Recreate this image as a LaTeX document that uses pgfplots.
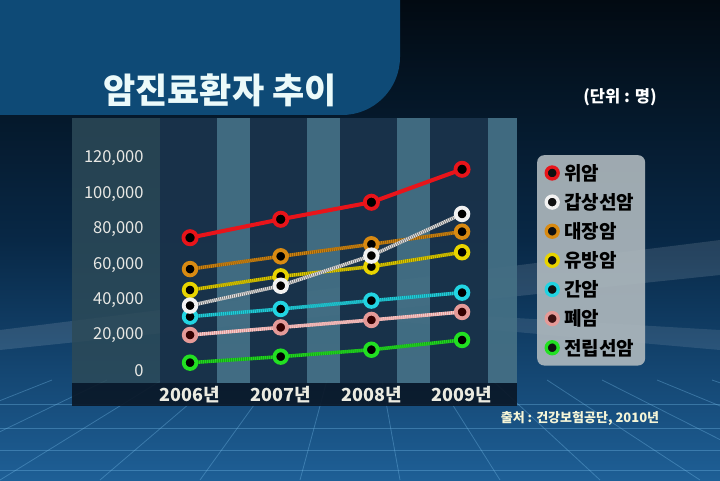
\documentclass[border=0pt]{standalone}
\usepackage{pgfplots}
\pgfplotsset{compat=1.18}
\usepackage{fontspec}
\setmainfont{Noto Sans CJK KR}
\usetikzlibrary{shadings}
\definecolor{cRed}{HTML}{E8141A}
\definecolor{cWhite}{HTML}{F2F2F2}
\definecolor{cOrange}{HTML}{D88A12}
\definecolor{cYellow}{HTML}{E8D400}
\definecolor{cCyan}{HTML}{22D4E2}
\definecolor{cPink}{HTML}{E59A98}
\definecolor{cGreen}{HTML}{22E022}
\definecolor{bandBlue}{HTML}{0E4A76}
\definecolor{panelGray}{HTML}{2C4A58}
\definecolor{stripeDark}{HTML}{173049}
\definecolor{stripeLight}{HTML}{4C7C94}
\definecolor{stripBottom}{HTML}{0A1828}
\definecolor{bgTop}{HTML}{020A12}
\definecolor{bgMid}{HTML}{082846}
\definecolor{bgBot}{HTML}{1E5F96}
\definecolor{gridC}{HTML}{78BEEB}
\definecolor{titleC}{HTML}{EBFAFA}
\definecolor{srcC}{HTML}{F5F5D7}
\definecolor{xlabC}{HTML}{EBEBE1}
\definecolor{ylabC}{HTML}{E8E8E4}
\definecolor{legC}{HTML}{AFB9BE}
\begin{document}
\begin{tikzpicture}
\path[use as bounding box] (0pt,0pt) rectangle (720pt,480pt);
% background
\shade[top color=bgTop, bottom color=bgBot, middle color=bgMid] (0pt,0pt) rectangle (720pt,480pt);
% light streaks
\fill[white, opacity=0.12] (0pt,150pt) -- (720pt,240pt) -- (720pt,205pt) -- (0pt,130pt) -- cycle;
\fill[white, opacity=0.10] (380pt,170pt) -- (720pt,150pt) -- (720pt,130pt) -- (380pt,160pt) -- cycle;
% grid
\begin{scope}[draw=gridC, opacity=0.35, line width=0.8pt]
\foreach \yy in {10,30,52,76} {\draw (0pt,{\yy*1pt}) -- (720pt,{\yy*1pt});}
\foreach \xx in {-300,-200,-100,0,100,200,300,400,500,600,700,800,900,1000} {\draw ({\xx*1pt},0pt) -- ({(360+(\xx-360)*0.55)*1pt},100pt);}
\end{scope}
% title band
\fill[bandBlue] (-60pt,365pt) [rounded corners=58pt] -- (400pt,365pt) -- (400pt,540pt) [sharp corners] -- (-60pt,540pt) -- cycle;
\node[text=titleC, font=\fontsize{35}{35}\selectfont\bfseries, anchor=center] at (220pt,390pt) {암진료환자 추이};
\node[text=white, font=\fontsize{16.5}{16.5}\selectfont\bfseries] at (620pt,383pt) {(단위 : 명)};
% panel
\fill[panelGray, opacity=0.85] (72pt,97pt) rectangle (517pt,362pt);
\foreach \a/\b in {160/217,250/307,340/397,430/488} {\fill[stripeDark, opacity=0.9] ({\a*1pt},97pt) rectangle ({\b*1pt},362pt);}
\foreach \a/\b in {217/250,307/340,397/430,488/517} {\fill[stripeLight, opacity=0.7] ({\a*1pt},97pt) rectangle ({\b*1pt},362pt);}
\fill[stripBottom, opacity=0.92] (72pt,74pt) rectangle (517pt,97pt);
% source
\node[text=srcC, font=\fontsize{13}{13}\selectfont\bfseries] at (580pt,62pt) {출처 : 건강보험공단, 2010년};
\begin{axis}[
  at={(144.7pt,109pt)}, anchor=south west,
  scale only axis, width=362.7pt, height=212.7pt,
  xmin=2005.5, xmax=2009.5, ymin=0, ymax=120000,
  axis lines=left, axis line style={draw=none}, tick style={draw=none},
  clip=false,
  xtick={2006,2007,2008,2009},
  xticklabels={2006년,2007년,2008년,2009년},
  xticklabel style={anchor=center, yshift=-21pt, text=xlabC, font=\fontsize{18}{18}\selectfont\bfseries},
  ytick={0,20000,40000,60000,80000,100000,120000},
  yticklabels={0,{20,000},{40,000},{60,000},{80,000},{100,000},{120,000}},
  scaled y ticks=false,
  yticklabel style={anchor=east, xshift=4.5pt, text=ylabC, font=\fontsize{16.5}{16.5}\selectfont},
  legend style={at={(1.0816,1.0155)}, anchor=north west, fill=legC, fill opacity=0.9, text opacity=1, draw=none, rounded corners=7pt,
    font=\fontsize{19}{19}\selectfont\bfseries, row sep=7.6pt, inner xsep=9pt, inner ysep=7pt,
    /tikz/every odd column/.append style={column sep=4pt}},
  legend cell align=left,
]
% lines
\addplot[forget plot, draw=cGreen, line width=3.5pt, postaction={draw=black, draw opacity=0.25, dash pattern=on 1pt off 1pt, line width=3.5pt}] coordinates {(2006,4700) (2007,8100) (2008,12000) (2009,17500)};
\addplot[forget plot, draw=cPink, line width=3.5pt, postaction={draw=white, draw opacity=0.5, dash pattern=on 1pt off 1pt, line width=3.5pt}] coordinates {(2006,20300) (2007,24600) (2008,28800) (2009,33300)};
\addplot[forget plot, draw=cCyan, line width=3.5pt, postaction={draw=black, draw opacity=0.25, dash pattern=on 1pt off 1pt, line width=3.5pt}] coordinates {(2006,30700) (2007,35000) (2008,39700) (2009,44200)};
\addplot[forget plot, draw=cYellow, line width=3.5pt, postaction={draw=black, draw opacity=0.3, dash pattern=on 1pt off 1pt, line width=3.5pt}] coordinates {(2006,45700) (2007,53400) (2008,58900) (2009,67000)};
\addplot[forget plot, draw=cOrange, line width=3.5pt, postaction={draw=black, draw opacity=0.3, dash pattern=on 1pt off 1pt, line width=3.5pt}] coordinates {(2006,57500) (2007,64700) (2008,71500) (2009,78600)};
\addplot[forget plot, draw=cWhite, line width=3.5pt, postaction={draw=black, draw opacity=0.45, dash pattern=on 1pt off 1pt, line width=3.5pt}] coordinates {(2006,36900) (2007,48100) (2008,65100) (2009,88600)};
\addplot[forget plot, draw=cRed, line width=4pt] coordinates {(2006,75200) (2007,85600) (2008,95200) (2009,113800)};
% markers
\addplot[forget plot, only marks, mark=*, mark size=6.3pt, mark options={draw=cGreen, fill=black, line width=3.8pt}] coordinates {(2006,4700) (2007,8100) (2008,12000) (2009,17500)};
\addplot[forget plot, only marks, mark=*, mark size=6.3pt, mark options={draw=cPink, fill=black!80!red, line width=3.8pt}] coordinates {(2006,20300) (2007,24600) (2008,28800) (2009,33300)};
\addplot[forget plot, only marks, mark=*, mark size=6.3pt, mark options={draw=cCyan, fill=black, line width=3.8pt}] coordinates {(2006,30700) (2007,35000) (2008,39700) (2009,44200)};
\addplot[forget plot, only marks, mark=*, mark size=6.3pt, mark options={draw=cYellow, fill=black, line width=3.8pt}] coordinates {(2006,45700) (2007,53400) (2008,58900) (2009,67000)};
\addplot[forget plot, only marks, mark=*, mark size=6.3pt, mark options={draw=cOrange, fill=black, line width=3.8pt}] coordinates {(2006,57500) (2007,64700) (2008,71500) (2009,78600)};
\addplot[forget plot, only marks, mark=*, mark size=6.3pt, mark options={draw=cWhite, fill=black, line width=3.8pt}] coordinates {(2006,36900) (2007,48100) (2008,65100) (2009,88600)};
\addplot[forget plot, only marks, mark=*, mark size=6.6pt, mark options={draw=cRed, fill=black, line width=3.8pt}] coordinates {(2006,75200) (2007,85600) (2008,95200) (2009,113800)};
% legend
\addlegendimage{only marks, mark=*, mark size=6pt, mark options={draw=cRed, fill=black, line width=3.3pt}}
\addlegendentry{위암}
\addlegendimage{only marks, mark=*, mark size=6pt, mark options={draw=cWhite, fill=black, line width=3.3pt}}
\addlegendentry{갑상선암}
\addlegendimage{only marks, mark=*, mark size=6pt, mark options={draw=cOrange, fill=black, line width=3.3pt}}
\addlegendentry{대장암}
\addlegendimage{only marks, mark=*, mark size=6pt, mark options={draw=cYellow, fill=black, line width=3.3pt}}
\addlegendentry{유방암}
\addlegendimage{only marks, mark=*, mark size=6pt, mark options={draw=cCyan, fill=black, line width=3.3pt}}
\addlegendentry{간암}
\addlegendimage{only marks, mark=*, mark size=6pt, mark options={draw=cPink, fill=black!80!red, line width=3.3pt}}
\addlegendentry{폐암}
\addlegendimage{only marks, mark=*, mark size=6pt, mark options={draw=cGreen, fill=black, line width=3.3pt}}
\addlegendentry{전립선암}
\end{axis}
\end{tikzpicture}
\end{document}
